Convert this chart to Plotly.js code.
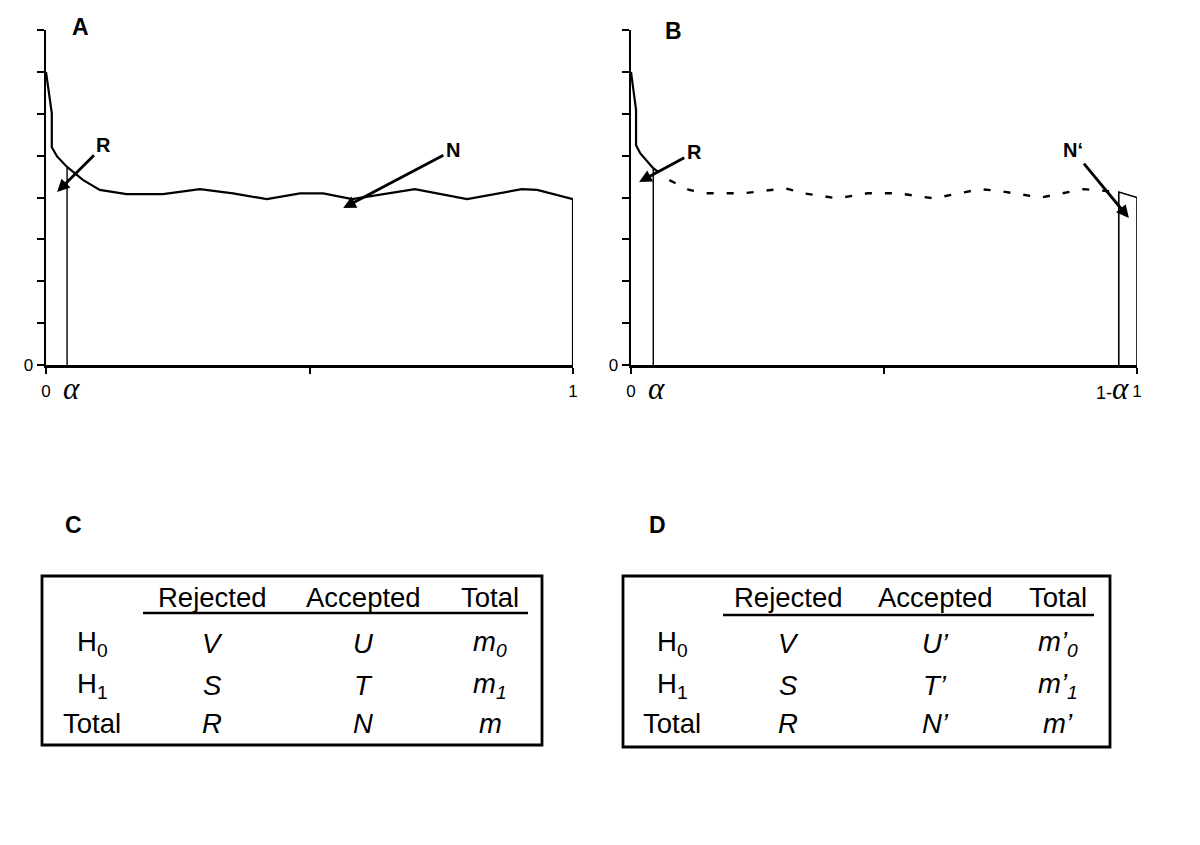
<!DOCTYPE html>
<html>
<head>
<meta charset="utf-8">
<script src="https://cdn.plot.ly/plotly-3.0.1.min.js"></script>
<style>html,body{margin:0;padding:0;background:#fff;}#chart{width:1200px;height:845px;}</style>
</head>
<body>
<div id="chart"></div>
<script>
// ---------- data ----------
const alphaA = 0.04;
const alphaB = 0.044;
const oneMinusAlphaB = 0.964;

// Panel A: p-value density curve
const xA = [0, 0.011, 0.011, 0.021, 0.040, 0.070, 0.102, 0.153, 0.222, 0.292, 0.355, 0.419, 0.482, 0.526, 0.581, 0.700, 0.799, 0.903, 0.932, 1.0, 1.0];
const yA = [7.0, 6.01, 5.2, 4.98, 4.73, 4.42, 4.18, 4.08, 4.08, 4.2, 4.1, 3.96, 4.1, 4.1, 3.96, 4.2, 3.96, 4.2, 4.18, 3.96, 0];

// Panel B: solid part (rejected), dashed middle, N' block
const xBsolid = [0, 0.010, 0.010, 0.018, 0.044];
const yBsolid = [7.0, 6.09, 5.25, 5.06, 4.70];
const xBdash = [0.044, 0.075, 0.115, 0.147, 0.222, 0.305, 0.341, 0.408, 0.467, 0.527, 0.598, 0.691, 0.731, 0.81, 0.895, 0.964];
const yBdash = [4.70, 4.42, 4.18, 4.1, 4.1, 4.22, 4.1, 3.98, 4.1, 4.1, 3.98, 4.2, 4.15, 4.0, 4.2, 4.13];
const xNprime = [0.964, 0.964, 1.0, 1.0];
const yNprime = [0, 4.13, 4.0, 0];

// ticks
const yTickVals = [0];
const yTickText = ["0"];
const yMinorStep = 1;
const xTickValsA = [0, 1];
const xTickTextA = ["0", "1"];
const xTickValsB = [0, 1];
const xTickTextB = ["0", "1"];
const xMinorStep = 0.5;

// arrows: [label, headX, headY, labelX, labelY]
const arrowsA = [["R", 0.021, 4.13, 0.110, 5.25], ["N", 0.564, 3.75, 0.772, 5.13]];
const arrowsB = [["R", 0.016, 4.37, 0.125, 5.08], ["N\u2018", 0.984, 3.51, 0.873, 5.13]];

// tables
const tableCols = ["Rejected", "Accepted", "Total"];
const tableRows = ["H<sub>0</sub>", "H<sub>1</sub>", "Total"];
const cellsC = [["<i>V</i>", "<i>U</i>", "<i>m<sub>0</sub></i>"],
                ["<i>S</i>", "<i>T</i>", "<i>m<sub>1</sub></i>"],
                ["<i>R</i>", "<i>N</i>", "<i>m</i>"]];
const cellsD = [["<i>V</i>", "<i>U\u2019</i>", "<i>m\u2019<sub>0</sub></i>"],
                ["<i>S</i>", "<i>T\u2019</i>", "<i>m\u2019<sub>1</sub></i>"],
                ["<i>R</i>", "<i>N\u2019</i>", "<i>m\u2019</i>"]];
const panelLabels = ["A", "B", "C", "D"];

// ---------- layout helpers ----------
const W = 1200, H = 845;
const px = v => v / W;
const py = v => 1 - v / H;
const SANS = "Liberation Sans, Arial, sans-serif";
const SERIF = "Liberation Serif, Times New Roman, serif";

function yAt(xs, ys, xv) {
  for (let i = 0; i < xs.length; i++) if (xs[i] === xv) return ys[i];
  for (let i = 0; i < xs.length - 1; i++) {
    if (xs[i] <= xv && xs[i + 1] >= xv && xs[i + 1] !== xs[i]) {
      return ys[i] + (ys[i + 1] - ys[i]) * (xv - xs[i]) / (xs[i + 1] - xs[i]);
    }
  }
  return 0;
}

const traces = [
  {x: xA, y: yA, xaxis: "x", yaxis: "y", mode: "lines", line: {color: "#000", width: 2.2}},
  {x: [alphaA, alphaA], y: [0, yAt(xA, yA, alphaA)], xaxis: "x", yaxis: "y", mode: "lines", line: {color: "#000", width: 1.4}},
  {x: xBsolid, y: yBsolid, xaxis: "x2", yaxis: "y2", mode: "lines", line: {color: "#000", width: 2.2}},
  {x: [alphaB, alphaB], y: [0, yBsolid[yBsolid.length - 1]], xaxis: "x2", yaxis: "y2", mode: "lines", line: {color: "#000", width: 1.4}},
  {x: xBdash, y: yBdash, xaxis: "x2", yaxis: "y2", mode: "lines", line: {color: "#000", width: 2.4, dash: "7px,13px"}},
  {x: xNprime, y: yNprime, xaxis: "x2", yaxis: "y2", mode: "lines", line: {color: "#000", width: 1.6}}
];

const yDomain = [py(365), py(30)];
function xAxis(domain, vals, text, anchor) {
  return {domain: domain, range: [0, 1], anchor: anchor, showgrid: false, zeroline: false, showline: true, linecolor: "#000", linewidth: 2.5,
    ticks: "outside", ticklen: 6, tickwidth: 2, tickcolor: "#000", tickvals: vals, ticktext: text,
    minor: {dtick: xMinorStep, tick0: 0, ticks: "outside", ticklen: 6, tickwidth: 2, tickcolor: "#000", showgrid: false},
    tickfont: {family: SANS, size: 17, color: "#000"}, ticklabelstandoff: 3, fixedrange: true};
}
function yAxis(anchor) {
  return {domain: yDomain, range: [0, 8], anchor: anchor, showgrid: false, zeroline: false, showline: true, linecolor: "#000", linewidth: 2.5,
    ticks: "outside", ticklen: 7, tickwidth: 2, tickcolor: "#000", tickvals: yTickVals, ticktext: yTickText,
    minor: {dtick: yMinorStep, tick0: 0, ticks: "outside", ticklen: 7, tickwidth: 2, tickcolor: "#000", showgrid: false},
    tickfont: {family: SANS, size: 17, color: "#000"}, fixedrange: true};
}

const annotations = [];
const shapes = [];

function addArrows(list, xr, yr) {
  list.forEach(a => {
    annotations.push({x: a[1], y: a[2], ax: a[3], ay: a[4], xref: xr, yref: yr, axref: xr, ayref: yr,
      text: "<b>" + a[0] + "</b>", showarrow: true, arrowhead: 2, arrowsize: 0.9, arrowwidth: 2.8, arrowcolor: "#000",
      standoff: 0, borderpad: 2, font: {family: SANS, size: 20, color: "#000"}});
  });
}
addArrows(arrowsA, "x", "y");
addArrows(arrowsB, "x2", "y2");

// alpha labels
annotations.push({x: alphaA, y: py(389), xref: "x", yref: "paper", xshift: 4, text: "<i>α</i>", showarrow: false,
  xanchor: "center", yanchor: "middle", font: {family: SERIF, size: 31, color: "#000"}});
annotations.push({x: alphaB, y: py(389), xref: "x2", yref: "paper", xshift: 3, text: "<i>α</i>", showarrow: false,
  xanchor: "center", yanchor: "middle", font: {family: SERIF, size: 31, color: "#000"}});
annotations.push({x: oneMinusAlphaB, y: py(389), xref: "x2", yref: "paper", xshift: 12,
  text: "1-<span style=\"font-family:'Liberation Serif';font-size:31px\"><i>α</i></span>",
  showarrow: false, xanchor: "right", yanchor: "middle", font: {family: SANS, size: 18, color: "#000"}});

// panel letters
const letterPos = [[80, 27], [673, 31], [73, 525], [657, 525]];
panelLabels.forEach((l, i) => {
  annotations.push({x: px(letterPos[i][0]), y: py(letterPos[i][1]), xref: "paper", yref: "paper", text: "<b>" + l + "</b>",
    showarrow: false, xanchor: "center", yanchor: "middle", font: {family: SANS, size: 23, color: "#000"}});
});

// tables
function addTable(cells, box, colX, rowX, line) {
  shapes.push({type: "rect", xref: "paper", yref: "paper", x0: px(box[0]), y0: py(box[1]), x1: px(box[2]), y1: py(box[3]),
    line: {color: "#000", width: 2.8}});
  shapes.push({type: "line", xref: "paper", yref: "paper", x0: px(line[0]), x1: px(line[1]), y0: py(line[2]), y1: py(line[2]),
    line: {color: "#000", width: 2.5}});
  const headY = 597, rowY = [643, 685, 723];
  const f = {family: SANS, size: 27.5, color: "#000"};
  tableCols.forEach((c, j) => annotations.push({x: px(colX[j]), y: py(headY), xref: "paper", yref: "paper", text: c,
    showarrow: false, xanchor: "center", yanchor: "middle", font: f}));
  tableRows.forEach((r, i) => {
    annotations.push({x: px(rowX), y: py(rowY[i]), xref: "paper", yref: "paper", text: r,
      showarrow: false, xanchor: "center", yanchor: "middle", font: f});
    cells[i].forEach((c, j) => annotations.push({x: px(colX[j]), y: py(rowY[i]), xref: "paper", yref: "paper", text: c,
      showarrow: false, xanchor: "center", yanchor: "middle", font: f}));
  });
}
addTable(cellsC, [42, 576, 542, 745], [212, 363, 490], 92, [143, 528, 613]);
addTable(cellsD, [623, 576, 1110, 747], [788, 935, 1058], 672, [723, 1094, 615]);

const layout = {
  width: W, height: H, margin: {l: 0, r: 0, t: 0, b: 0},
  paper_bgcolor: "#fff", plot_bgcolor: "rgba(0,0,0,0)", showlegend: false,
  xaxis: xAxis([px(46), px(573)], xTickValsA, xTickTextA, "y"),
  yaxis: yAxis("x"),
  xaxis2: xAxis([px(631), px(1137)], xTickValsB, xTickTextB, "y2"),
  yaxis2: yAxis("x2"),
  annotations: annotations, shapes: shapes
};

Plotly.newPlot("chart", traces, layout, {staticPlot: true, displayModeBar: false});
</script>
</body>
</html>
